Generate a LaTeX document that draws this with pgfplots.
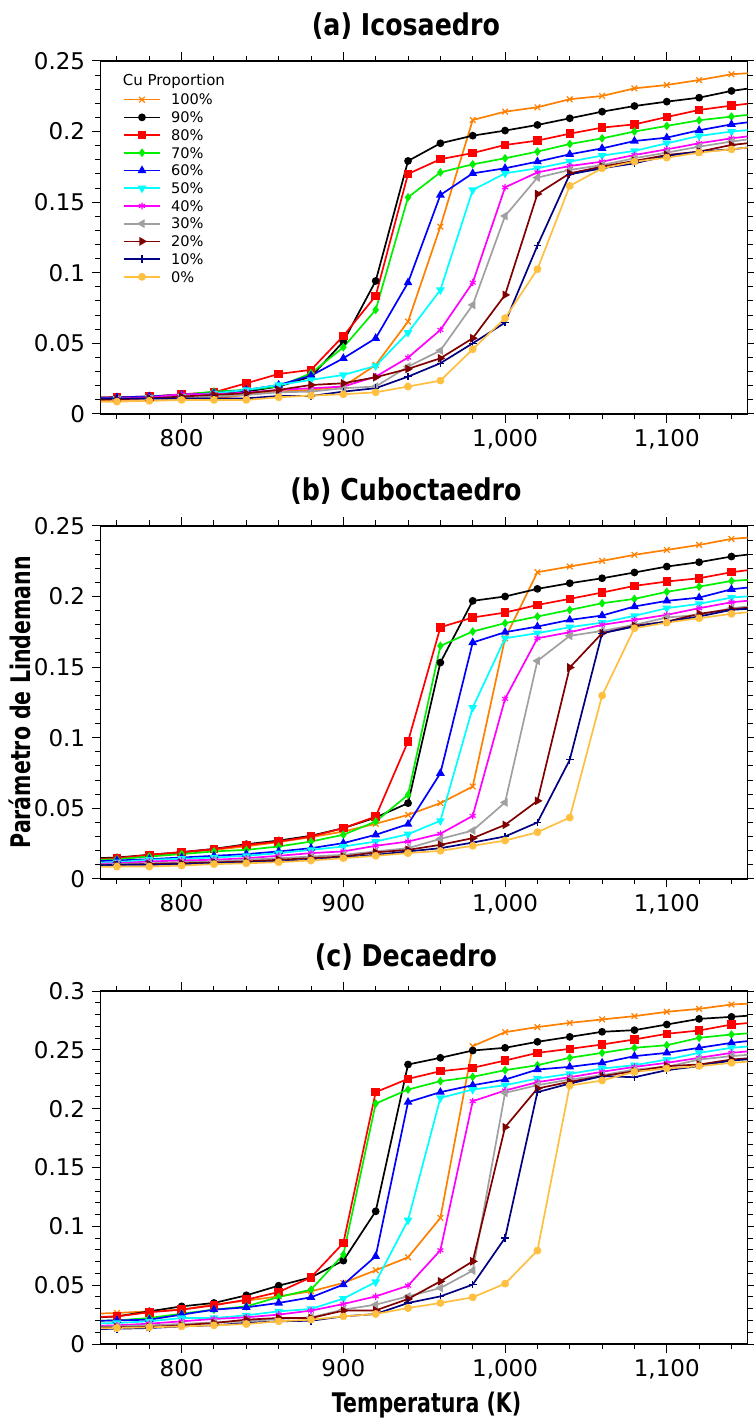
\documentclass[border=0pt]{standalone}
\usepackage{pgfplots}
\pgfplotsset{compat=1.18}
\usepackage{pgfplotstable}
\usepackage{graphicx}
\usepackage{fontspec}
\setmainfont{DejaVu Sans}
\usetikzlibrary{plotmarks}

\definecolor{k100}{RGB}{255,128,0}
\definecolor{k90}{RGB}{0,0,0}
\definecolor{k80}{RGB}{255,0,0}
\definecolor{k70}{RGB}{0,240,0}
\definecolor{k60}{RGB}{0,0,255}
\definecolor{k50}{RGB}{0,255,255}
\definecolor{k40}{RGB}{255,0,255}
\definecolor{k30}{RGB}{160,160,160}
\definecolor{k20}{RGB}{128,0,0}
\definecolor{k10}{RGB}{0,0,128}
\definecolor{k0}{RGB}{255,191,64}

\pgfplotstableread{
T c100 c90 c80 c70 c60 c50 c40 c30 c20 c10 c0
740 0.0098 0.0115 0.0115 0.0108 0.0113 0.0108 0.0108 0.0102 0.0098 0.0108 0.0085
760 0.0100 0.0118 0.0118 0.0110 0.0116 0.0110 0.0110 0.0104 0.0104 0.0110 0.0087
780 0.0100 0.0123 0.0123 0.0123 0.0123 0.0116 0.0116 0.0104 0.0110 0.0110 0.0092
800 0.0110 0.0135 0.0139 0.0135 0.0135 0.0123 0.0139 0.0110 0.0123 0.0110 0.0099
820 0.0110 0.0146 0.0153 0.0158 0.0146 0.0146 0.0139 0.0123 0.0135 0.0110 0.0099
840 0.0135 0.0158 0.0217 0.0170 0.0170 0.0170 0.0151 0.0135 0.0146 0.0110 0.0099
860 0.0158 0.0194 0.0283 0.0194 0.0205 0.0205 0.0170 0.0153 0.0170 0.0127 0.0118
880 0.0170 0.0264 0.0312 0.0288 0.0271 0.0241 0.0182 0.0158 0.0205 0.0127 0.0130
900 0.0194 0.0512 0.0552 0.0472 0.0394 0.0276 0.0194 0.0182 0.0217 0.0158 0.0139
920 0.0347 0.0942 0.0836 0.0737 0.0536 0.0340 0.0264 0.0194 0.0260 0.0182 0.0153
940 0.0654 0.1792 0.1700 0.1534 0.0930 0.0576 0.0399 0.0335 0.0319 0.0264 0.0194
960 0.1327 0.1917 0.1804 0.1711 0.1551 0.0878 0.0595 0.0449 0.0394 0.0359 0.0236
980 0.2082 0.1971 0.1848 0.1768 0.1704 0.1586 0.0930 0.0772 0.0536 0.0500 0.0458
1000 0.2141 0.2007 0.1905 0.1811 0.1740 0.1704 0.1605 0.1402 0.0843 0.0647 0.0678
1020 0.2172 0.2047 0.1936 0.1858 0.1787 0.1740 0.1711 0.1674 0.1558 0.1192 0.1025
1040 0.2229 0.2094 0.1985 0.1912 0.1839 0.1787 0.1756 0.1728 0.1704 0.1697 0.1615
1060 0.2252 0.2141 0.2028 0.1952 0.1881 0.1830 0.1787 0.1763 0.1752 0.1740 0.1740
1080 0.2306 0.2181 0.2051 0.2000 0.1933 0.1863 0.1834 0.1811 0.1792 0.1775 0.1787
1100 0.2330 0.2212 0.2103 0.2040 0.1957 0.1917 0.1874 0.1851 0.1834 0.1827 0.1815
1120 0.2365 0.2240 0.2153 0.2080 0.2009 0.1969 0.1917 0.1893 0.1858 0.1858 0.1851
1140 0.2406 0.2288 0.2184 0.2106 0.2051 0.2000 0.1952 0.1929 0.1905 0.1874 0.1874
1160 0.2420 0.2320 0.2210 0.2130 0.2080 0.2020 0.1980 0.1960 0.1930 0.1900 0.1900
}\dataA

\pgfplotstableread{
T c100 c90 c80 c70 c60 c50 c40 c30 c20 c10 c0
740 0.0138 0.0143 0.0138 0.0130 0.0122 0.0112 0.0104 0.0098 0.0093 0.0093 0.0082
760 0.0146 0.0151 0.0146 0.0139 0.0130 0.0118 0.0110 0.0104 0.0099 0.0099 0.0087
780 0.0165 0.0170 0.0170 0.0158 0.0139 0.0135 0.0123 0.0110 0.0104 0.0099 0.0087
800 0.0185 0.0189 0.0189 0.0175 0.0151 0.0142 0.0130 0.0118 0.0110 0.0104 0.0094
820 0.0205 0.0212 0.0210 0.0194 0.0163 0.0151 0.0135 0.0123 0.0116 0.0110 0.0104
840 0.0230 0.0245 0.0240 0.0205 0.0175 0.0163 0.0146 0.0135 0.0123 0.0116 0.0110
860 0.0260 0.0271 0.0264 0.0229 0.0194 0.0182 0.0163 0.0146 0.0135 0.0123 0.0118
880 0.0295 0.0305 0.0300 0.0264 0.0217 0.0205 0.0182 0.0158 0.0146 0.0135 0.0130
900 0.0335 0.0359 0.0359 0.0312 0.0253 0.0229 0.0194 0.0170 0.0158 0.0151 0.0146
920 0.0390 0.0434 0.0441 0.0406 0.0312 0.0264 0.0234 0.0194 0.0187 0.0170 0.0163
940 0.0453 0.0536 0.0973 0.0595 0.0387 0.0316 0.0264 0.0217 0.0205 0.0194 0.0182
960 0.0536 0.1532 0.1782 0.1650 0.0748 0.0411 0.0319 0.0283 0.0241 0.0217 0.0198
980 0.0654 0.1969 0.1851 0.1752 0.1674 0.1213 0.0446 0.0342 0.0288 0.0257 0.0234
1000 0.1704 0.2000 0.1886 0.1811 0.1747 0.1704 0.1275 0.0541 0.0382 0.0300 0.0271
1020 0.2172 0.2054 0.1940 0.1858 0.1787 0.1740 0.1704 0.1544 0.0552 0.0399 0.0330
1040 0.2212 0.2094 0.1983 0.1905 0.1834 0.1782 0.1747 0.1721 0.1497 0.0843 0.0434
1060 0.2252 0.2129 0.2028 0.1952 0.1865 0.1815 0.1799 0.1756 0.1740 0.1740 0.1298
1080 0.2295 0.2170 0.2075 0.1983 0.1929 0.1863 0.1834 0.1799 0.1792 0.1787 0.1775
1100 0.2330 0.2212 0.2106 0.2033 0.1969 0.1917 0.1870 0.1851 0.1822 0.1822 0.1815
1120 0.2365 0.2243 0.2129 0.2070 0.1992 0.1948 0.1917 0.1870 0.1877 0.1858 0.1846
1140 0.2408 0.2283 0.2172 0.2110 0.2051 0.1992 0.1959 0.1917 0.1910 0.1905 0.1877
1160 0.2425 0.2310 0.2200 0.2125 0.2075 0.2010 0.1980 0.1940 0.1930 0.1920 0.1900
}\dataB

\pgfplotstableread{
T c100 c90 c80 c70 c60 c50 c40 c30 c20 c10 c0
740 0.0255 0.0220 0.0225 0.0195 0.0195 0.0172 0.0152 0.0145 0.0138 0.0125 0.0132
760 0.0264 0.0235 0.0235 0.0201 0.0201 0.0179 0.0159 0.0150 0.0142 0.0130 0.0136
780 0.0278 0.0278 0.0270 0.0221 0.0207 0.0193 0.0173 0.0159 0.0145 0.0136 0.0142
800 0.0292 0.0320 0.0292 0.0258 0.0250 0.0221 0.0193 0.0170 0.0159 0.0150 0.0150
820 0.0335 0.0349 0.0329 0.0292 0.0292 0.0221 0.0213 0.0184 0.0179 0.0159 0.0159
840 0.0369 0.0414 0.0377 0.0320 0.0312 0.0244 0.0227 0.0193 0.0207 0.0179 0.0170
860 0.0405 0.0496 0.0442 0.0400 0.0349 0.0278 0.0250 0.0213 0.0221 0.0193 0.0193
880 0.0448 0.0567 0.0567 0.0462 0.0397 0.0298 0.0284 0.0227 0.0221 0.0198 0.0207
900 0.0519 0.0709 0.0859 0.0760 0.0505 0.0386 0.0340 0.0292 0.0284 0.0235 0.0235
920 0.0627 0.1128 0.2141 0.2044 0.0746 0.0527 0.0405 0.0335 0.0286 0.0255 0.0255
940 0.0737 0.2376 0.2254 0.2163 0.2056 0.1052 0.0496 0.0405 0.0383 0.0349 0.0306
960 0.1072 0.2433 0.2319 0.2234 0.2141 0.2092 0.0797 0.0476 0.0533 0.0405 0.0349
980 0.2532 0.2495 0.2348 0.2271 0.2200 0.2163 0.2064 0.0624 0.0703 0.0505 0.0397
1000 0.2651 0.2518 0.2410 0.2328 0.2248 0.2200 0.2155 0.2135 0.1843 0.0902 0.0513
1020 0.2694 0.2569 0.2475 0.2370 0.2333 0.2257 0.2226 0.2200 0.2172 0.2141 0.0794
1040 0.2730 0.2611 0.2509 0.2433 0.2356 0.2297 0.2268 0.2248 0.2229 0.2214 0.2197
1060 0.2759 0.2654 0.2546 0.2475 0.2390 0.2342 0.2314 0.2285 0.2277 0.2277 0.2240
1080 0.2787 0.2668 0.2589 0.2518 0.2447 0.2370 0.2356 0.2333 0.2319 0.2268 0.2314
1100 0.2824 0.2716 0.2637 0.2540 0.2475 0.2418 0.2390 0.2356 0.2362 0.2328 0.2342
1120 0.2849 0.2764 0.2665 0.2603 0.2518 0.2475 0.2433 0.2418 0.2376 0.2362 0.2362
1140 0.2886 0.2781 0.2716 0.2631 0.2560 0.2518 0.2475 0.2447 0.2418 0.2410 0.2390
1160 0.2900 0.2800 0.2740 0.2650 0.2590 0.2540 0.2500 0.2470 0.2440 0.2430 0.2410
}\dataC

\pgfplotsset{
  s100/.style={k100, line width=0.85pt, mark=x, mark size=2pt, mark options={solid, line width=0.6pt}},
  s90/.style={k90, line width=0.85pt, mark=*, mark size=1.5pt, mark options={solid, fill=k90}},
  s80/.style={k80, line width=0.85pt, mark=square*, mark size=1.7pt, mark options={solid, fill=k80}},
  s70/.style={k70, line width=0.85pt, mark=diamond*, mark size=1.5pt, mark options={solid, fill=k70}},
  s60/.style={k60, line width=0.85pt, mark=triangle*, mark size=1.7pt, mark options={solid, fill=k60}},
  s50/.style={k50, line width=0.85pt, mark=triangle*, mark size=1.7pt, mark options={solid, fill=k50, rotate=180}},
  s40/.style={k40, line width=0.85pt, mark=asterisk, mark size=1.7pt, mark options={solid, line width=0.6pt}},
  s30/.style={k30, line width=0.85pt, mark=triangle*, mark size=1.7pt, mark options={solid, fill=k30, rotate=90}},
  s20/.style={k20, line width=0.85pt, mark=triangle*, mark size=1.7pt, mark options={solid, fill=k20, rotate=-90}},
  s10/.style={k10, line width=0.85pt, mark=+, mark size=1.9pt, mark options={solid, line width=0.6pt}},
  s0/.style={k0, line width=0.85pt, mark=10-pointed star, mark size=1.9pt, mark options={solid, fill=k0}},
  panel/.style={
    scale only axis, width=323.5pt, height=176.5pt,
    xmin=750, xmax=1150, ymin=0,
    clip=true,
    tick align=outside,
    major tick length=4.3pt, minor tick length=2.7pt,
    tick style={black, line width=0.5pt},
    axis line style={black, line width=0.7pt},
    xtick={800,900,1000,1100},
    xticklabels={800,900,{1,000},{1,100}},
    minor xtick={760,780,820,840,860,880,920,940,960,980,1020,1040,1060,1080,1120,1140},
    ticklabel style={font=\fontsize{11.5}{13}\selectfont},
    /pgf/number format/assume math mode=true,
    scaled y ticks=false,
    title style={at={(0.4717,1)}, anchor=base, yshift=6.5pt, font=\fontsize{15}{18}\selectfont\bfseries},
  },
}

\newcommand{\plotall}[1]{%
  \addplot[s100] table[x=T,y=c100]{#1};
  \addplot[s90] table[x=T,y=c90]{#1};
  \addplot[s80] table[x=T,y=c80]{#1};
  \addplot[s70] table[x=T,y=c70]{#1};
  \addplot[s60] table[x=T,y=c60]{#1};
  \addplot[s50] table[x=T,y=c50]{#1};
  \addplot[s40] table[x=T,y=c40]{#1};
  \addplot[s30] table[x=T,y=c30]{#1};
  \addplot[s20] table[x=T,y=c20]{#1};
  \addplot[s10] table[x=T,y=c10]{#1};
  \addplot[s0] table[x=T,y=c0]{#1};
}

\begin{document}
\begin{tikzpicture}
\begin{axis}[panel, at={(0pt,0pt)}, anchor=south west,
  ymax=0.25,
  ytick={0,0.05,0.1,0.15,0.2,0.25},
  yticklabels={0,0.05,0.1,0.15,0.2,0.25},
  minor ytick={0.01,0.02,0.03,0.04,0.06,0.07,0.08,0.09,0.11,0.12,0.13,0.14,0.16,0.17,0.18,0.19,0.21,0.22,0.23,0.24},
  title={\scalebox{0.843}[1]{(a) Icosaedro}},
  legend cell align=left,
  legend style={at={(0.0335,0.9167)}, anchor=north west, draw=none, fill=none,
    font=\fontsize{7.3}{8}\selectfont, inner sep=0pt, row sep=0pt, column sep=5pt,
    nodes={inner sep=0pt, text height=7.1pt, text depth=1.76pt}},
  legend image code/.code={\draw[mark repeat=2,mark phase=2,#1] plot coordinates {(0pt,0pt)(9.15pt,0pt)(18.3pt,0pt)};},
]
\plotall{\dataA}
\legend{100\%,90\%,80\%,70\%,60\%,50\%,40\%,30\%,20\%,10\%,0\%}
\node[anchor=west, inner sep=0pt, font=\fontsize{7.5}{8}\selectfont] at (axis description cs:0.0335,0.9414) {Cu Proportion};
\end{axis}

\begin{axis}[panel, at={(0pt,-232.5pt)}, anchor=south west,
  ymax=0.25,
  ytick={0,0.05,0.1,0.15,0.2,0.25},
  yticklabels={0,0.05,0.1,0.15,0.2,0.25},
  minor ytick={0.01,0.02,0.03,0.04,0.06,0.07,0.08,0.09,0.11,0.12,0.13,0.14,0.16,0.17,0.18,0.19,0.21,0.22,0.23,0.24},
  title={\scalebox{0.843}[1]{(b) Cuboctaedro}},
]
\plotall{\dataB}
\end{axis}

\begin{axis}[panel, at={(0pt,-465.15pt)}, anchor=south west,
  ymax=0.3,
  ytick={0,0.05,0.1,0.15,0.2,0.25,0.3},
  yticklabels={0,0.05,0.1,0.15,0.2,0.25,0.3},
  minor ytick={0.01,0.02,0.03,0.04,0.06,0.07,0.08,0.09,0.11,0.12,0.13,0.14,0.16,0.17,0.18,0.19,0.21,0.22,0.23,0.24,0.26,0.27,0.28,0.29},
  title={\scalebox{0.843}[1]{(c) Decaedro}},
]
\plotall{\dataC}
\end{axis}

\node[anchor=base west, inner sep=0pt, font=\fontsize{13.5}{15}\selectfont\bfseries] at (115.4pt,-499.3pt) {\scalebox{0.76}[1]{Temperatura (K)}};
\node[rotate=90, anchor=center, inner sep=0pt, font=\fontsize{13.5}{15}\selectfont\bfseries] at (-40.4pt,-144.25pt) {\scalebox{0.76}[1]{Parámetro de Lindemann}};

\pgfresetboundingbox
\path[use as bounding box] (-50.4pt,-502.15pt) rectangle (326.65pt,207pt);
\end{tikzpicture}
\end{document}
